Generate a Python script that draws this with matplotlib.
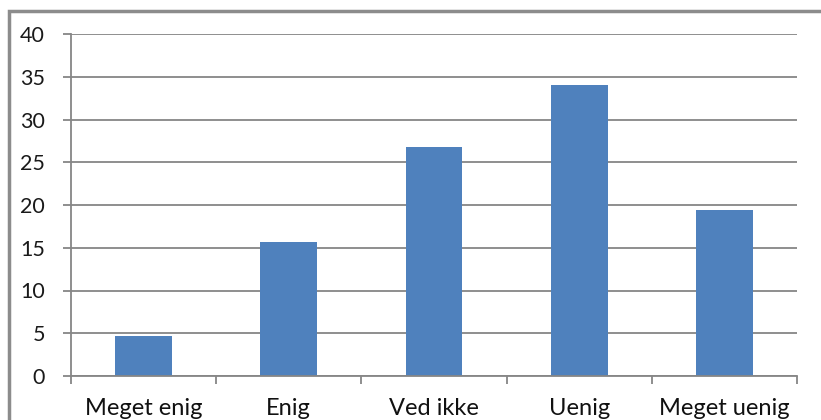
import matplotlib.pyplot as plt
from matplotlib.patches import Rectangle

categories = ['Meget enig', 'Enig', 'Ved ikke', 'Uenig', 'Meget uenig']
values = [4.7, 15.7, 26.8, 34.0, 19.4]
yticks = [0, 5, 10, 15, 20, 25, 30, 35, 40]

W, H = 821, 420
fig = plt.figure(figsize=(W / 100, H / 100), dpi=100)
plt.rcParams['font.family'] = ['Lato', 'DejaVu Sans']

# chart frame (cut off on the right and bottom)
fig.patches.append(Rectangle((9 / W, -0.1), 1.2, 1.1 - 11 / H, transform=fig.transFigure,
                             fill=False, edgecolor='#8c8c8c', linewidth=2.5))

ax = fig.add_axes([71 / W, 44 / H, 726 / W, 342 / H])
grey = '#868686'
x = range(len(categories))
ax.bar(x, values, width=0.39, color='#4F81BD', zorder=2)

ax.set_xlim(-0.5, len(categories) - 0.5)
ax.set_ylim(0, 40)
ax.set_yticks(yticks)
ax.set_yticklabels([str(v) for v in yticks], fontsize=15.5, color='#1a1a1a')
ax.yaxis.grid(True, color=grey, linewidth=1.3, zorder=0)

ax.set_xticks([i - 0.5 for i in range(len(categories) + 1)])
ax.set_xticklabels([])
ax.set_xticks(list(x), minor=True)
ax.set_xticklabels(categories, minor=True, fontsize=17, color='#111111')
ax.tick_params(axis='x', which='major', length=5.8, color=grey, width=1.3)
ax.tick_params(axis='x', which='minor', length=0, pad=16)
ax.tick_params(axis='y', length=5.8, color=grey, width=1.3, pad=13)

for s in ['top', 'right']:
    ax.spines[s].set_visible(False)
for s in ['left', 'bottom']:
    ax.spines[s].set_color(grey)
    ax.spines[s].set_linewidth(1.3)

fig.savefig('out.png', dpi=100, facecolor='white')
